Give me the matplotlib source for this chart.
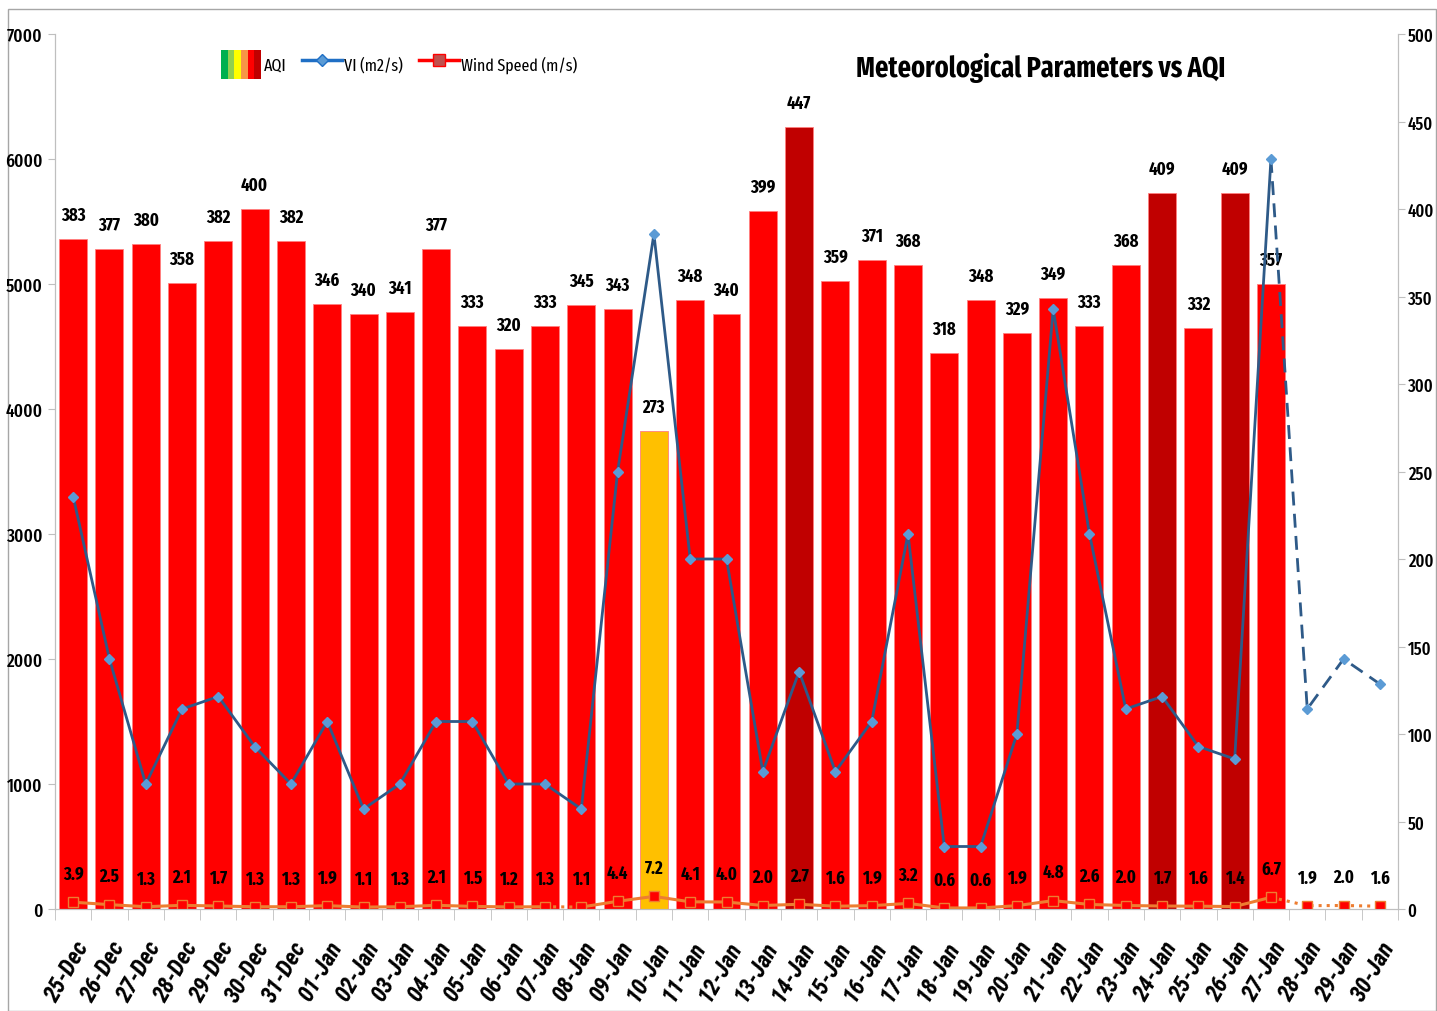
import matplotlib
matplotlib.use("Agg")
import matplotlib.pyplot as plt
from matplotlib.patches import Patch, Rectangle
from matplotlib.lines import Line2D
from matplotlib.legend_handler import HandlerTuple
import numpy as np

dates = ["25-Dec", "26-Dec", "27-Dec", "28-Dec", "29-Dec", "30-Dec", "31-Dec"] + \
    ["%02d-Jan" % d for d in range(1, 31)]

aqi = [383, 377, 380, 358, 382, 400, 382,
       346, 340, 341, 377, 333, 320, 333, 345, 343, 273, 348, 340, 399, 447,
       359, 371, 368, 318, 348, 329, 349, 333, 368, 409, 332, 409, 357]

vi = [3300, 2000, 1000, 1600, 1700, 1300, 1000,
      1500, 800, 1000, 1500, 1500, 1000, 1000, 800, 3500, 5400, 2800, 2800,
      1100, 1900, 1100, 1500, 3000, 500, 500, 1400, 4800, 3000, 1600, 1700,
      1300, 1200, 6000, 1600, 2000, 1800]

wind = [3.9, 2.5, 1.3, 2.1, 1.7, 1.3, 1.3,
        1.9, 1.1, 1.3, 2.1, 1.5, 1.2, 1.3, 1.1, 4.4, 7.2, 4.1, 4.0, 2.0, 2.7,
        1.6, 1.9, 3.2, 0.6, 0.6, 1.9, 4.8, 2.6, 2.0, 1.7, 1.6, 1.4, 6.7,
        1.9, 2.0, 1.6]

plt.rcParams["font.family"] = ["Roboto Condensed", "DejaVu Sans"]
NARROW = ["Fira Sans Extra Condensed", "Roboto Condensed", "DejaVu Sans"]


def bar_color(v):
    if v > 400:
        return "#C00000"
    if v < 300:
        return "#FFC000"
    return "#FF0000"


fig = plt.figure(figsize=(14.37, 10.12), dpi=100)
fig.add_artist(Rectangle((8 / 1437, 0), 1 - 9 / 1437, 1 - 10 / 1012, transform=fig.transFigure,
                         fill=False, edgecolor="#A6A6A6", linewidth=1))
ax = fig.add_axes([55 / 1437, 1 - 910 / 1012, 1343 / 1437, 875 / 1012])
ax2 = ax.twinx()
ax.set_zorder(ax2.get_zorder() + 1)
ax.patch.set_visible(False)
ax2.set_facecolor("#DBE4F2")

x = np.arange(len(dates))
xa = np.arange(len(aqi))

# AQI bars (right axis)
ax2.bar(xa, aqi, width=0.77, color=[bar_color(v) for v in aqi],
        edgecolor="#FF8080", linewidth=0.6, zorder=2)
for xi, v in zip(xa, aqi):
    ax2.annotate(str(v), (xi, v), xytext=(0, 11), textcoords="offset points",
                 ha="center", va="bottom", fontsize=13, fontweight="bold", family=NARROW)

# wind speed (right axis)
wcol = "#ED7D31"
n_obs = len(aqi)
ax2.plot(x[:14], wind[:14], color=wcol, lw=2.2, zorder=3)
ax2.plot(x[13:15], wind[13:15], color=wcol, lw=2.2, ls=":", zorder=3)
ax2.plot(x[14:n_obs], wind[14:n_obs], color=wcol, lw=2.2, zorder=3)
ax2.plot(x[n_obs - 1:], wind[n_obs - 1:], color=wcol, lw=2.2, ls=":", zorder=3)
ax2.plot(x, wind, ls="none", marker="s", ms=7, mfc="#FF0000", mec=wcol, mew=1, zorder=4)
for xi, v in zip(x, wind):
    ax2.annotate("%.1f" % v, (xi, v), xytext=(0, 14), textcoords="offset points",
                 ha="center", va="bottom", fontsize=13, fontweight="bold", family=NARROW)

# VI (left axis)
vcol = "#2E5A88"
ax.plot(x[:n_obs], vi[:n_obs], color=vcol, lw=2, zorder=5)
ax.plot(x[n_obs - 1:], vi[n_obs - 1:], color=vcol, lw=2, ls=(0, (5, 3)), zorder=5)
ax.plot(x, vi, ls="none", marker="D", ms=5.5, mfc="#5B9BD5", mec="#5B9BD5", zorder=6)

ax.set_xlim(-0.5, len(dates) - 0.5)
ax.set_ylim(0, 7000)
ax2.set_ylim(0, 500)
ax.set_yticks(np.arange(0, 7001, 1000))
ax2.set_yticks(np.arange(0, 501, 50))
ax.set_xticks(x)
ax.set_xticklabels(dates, rotation=60, ha="right", rotation_mode="anchor",
                   fontsize=17, fontweight="bold", fontstyle="italic")
ax.set_xticks(np.arange(-0.5, len(dates), 1), minor=True)
ax.tick_params(axis="x", which="major", length=0, pad=20)
ax.tick_params(axis="x", which="minor", length=8, color="#BFBFBF")
ax.tick_params(axis="y", length=5, color="#BFBFBF", labelsize=13.5, pad=4)
ax2.tick_params(axis="y", length=5, color="#BFBFBF", labelsize=13, pad=2)
for lab in ax.get_yticklabels() + ax2.get_yticklabels():
    lab.set_family(NARROW)
    lab.set_fontweight("medium")
for a in (ax, ax2):
    a.spines["top"].set_visible(False)
    for s in ("left", "right", "bottom"):
        a.spines[s].set_color("#BFBFBF")

ax.text(0.734, 0.962, "Meteorological Parameters vs AQI", transform=ax.transAxes,
        ha="center", va="center", fontsize=20.5, fontweight="bold", family=NARROW)

aqi_handle = tuple(Patch(facecolor=c) for c in
                   ["#00B050", "#92D050", "#FFFF00", "#F79646", "#FF0000", "#C00000"])
vi_handle = Line2D([], [], color="#1F6FC5", lw=2.5, marker="D", ms=6, mfc="#5B9BD5")
w_handle = Line2D([], [], color="#FF0000", lw=2.5, marker="s", ms=8, mfc="#C0504D", mec="#FF0000")
leg = ax.legend([aqi_handle, vi_handle, w_handle], ["AQI", "VI (m2/s)", "Wind Speed (m/s)"],
                handler_map={tuple: HandlerTuple(ndivide=None, pad=0)},
                loc="upper left", bbox_to_anchor=(0.112, 1.0), ncol=3,
                prop={"family": NARROW, "size": 12.5},
                frameon=True, fancybox=False, edgecolor="white", framealpha=1,
                handlelength=2.3, handleheight=2.2, handletextpad=0.15, columnspacing=0.9,
                borderpad=0.9, borderaxespad=0)

fig.savefig("out.png", dpi=100)
